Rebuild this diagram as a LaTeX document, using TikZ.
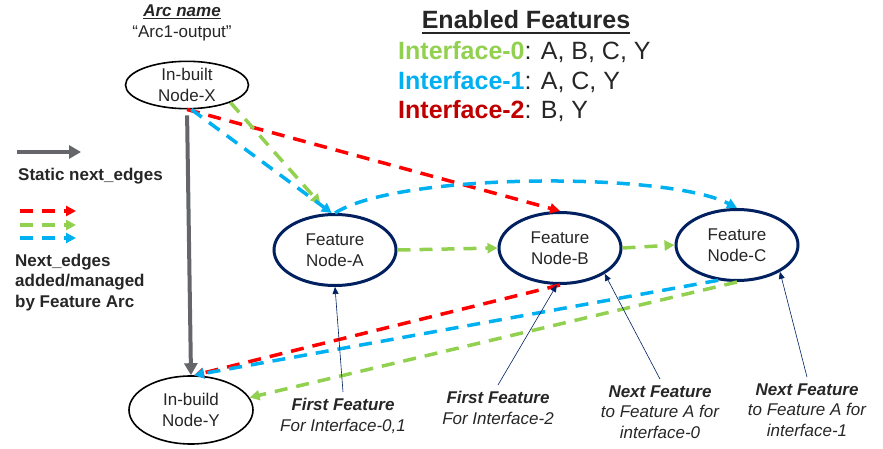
\documentclass[tikz,border=0pt]{standalone}
\usepackage{fontspec}
\setmainfont{Liberation Sans}
\usepackage{xcolor}
\usetikzlibrary{shapes.geometric,arrows.meta}
\definecolor{FRed}{RGB}{255,0,0}
\definecolor{FGreen}{RGB}{146,208,80}
\definecolor{FBlue}{RGB}{0,176,240}
\definecolor{DRed}{RGB}{192,0,0}
\definecolor{Navy}{RGB}{0,32,96}
\definecolor{SGray}{RGB}{100,102,106}
\definecolor{TXT}{RGB}{38,38,38}
\newsavebox\ULbox
\newcommand{\ULtxt}[3]{\sbox\ULbox{#3}\rlap{\rule[-#1]{\wd\ULbox}{#2}}\usebox\ULbox}
\tikzset{
    IN/.style ={ellipse,draw=black,line width=1.6pt,inner sep=0pt,align=center,text=TXT,font=\fontsize{17}{21}\selectfont},
    FN/.style ={ellipse,draw=Navy,line width=3pt,inner sep=0pt,minimum width=122pt,minimum height=71pt,align=center,text=TXT,font=\fontsize{17}{21}\selectfont},
    TX/.style ={inner sep=0pt,text=TXT,font=\fontsize{17}{20.5}\selectfont},
    HD/.style ={inner sep=0pt,text=TXT,font=\fontsize{25}{29}\selectfont},
    AL/.style ={inner sep=6pt,align=center,text=TXT,font=\fontsize{17}{20.5}\selectfont},
    DE/.style ={line width=3.5pt,dash pattern=on 13pt off 9pt,-{Triangle[length=10pt,width=10pt]}},
    ST/.style ={SGray,line width=4pt,-{Triangle[length=12pt,width=13pt]}},
    AN/.style ={Navy,line width=0.6pt,-{Triangle[length=7pt,width=6pt]}}
}
\begin{document}
\begin{tikzpicture}[x=1pt,y=-1pt]
    \path[use as bounding box] (0,0) rectangle (883,449);
    % nodes
    \node[IN,minimum width=123pt,minimum height=47pt] (X) at (187,85) {In-built\\Node-X};
    \node[IN,minimum width=124pt,minimum height=68pt] (Y) at (191,410) {In-build\\Node-Y};
    \node[FN] (A) at (335,250) {Feature\\Node-A};
    \node[FN] (B) at (560,248) {Feature\\Node-B};
    \node[FN] (C) at (737,245) {Feature\\Node-C};
    % arc name and enabled features
    \node[TX,anchor=base] (arc) at (182,17) {\bfseries\itshape\ULtxt{2.5pt}{1.8pt}{Arc name}};
    \node[TX,anchor=base] (arcv) at (182,38) {“Arc1-output”};
    \node[HD,anchor=base] (hdr) at (526,29) {\bfseries\ULtxt{5.2pt}{2.6pt}{Enabled Features}};
    \node[HD,anchor=base west] (if0) at (398,60) {\textcolor{FGreen}{\bfseries Interface-0}: A, B, C, Y};
    \node[HD,anchor=base west] (if1) at (398,90) {\textcolor{FBlue}{\bfseries Interface-1}: A, C, Y};
    \node[HD,anchor=base west] (if2) at (398,119) {\textcolor{DRed}{\bfseries Interface-2}: B, Y};
    % legend
    \coordinate (g0) at (17,152);
    \coordinate (g1) at (81,152);
    \draw[ST] (g0) -- (g1);
    \node[TX,anchor=base west,font=\fontsize{17}{20.5}\selectfont\bfseries] (lst) at (18,181) {Static next\_edges};
    \foreach \c/\y [count=\i] in {FRed/211,FGreen/225,FBlue/238}{
        \coordinate (d\i a) at (20,\y);
        \coordinate (d\i b) at (76,\y);
        \draw[DE,\c] (d\i a) -- (d\i b);}
    \node[TX,anchor=base west,align=left,font=\fontsize{17}{20.5}\selectfont\bfseries] (lne) at (15,307) {Next\_edges\\added/managed\\by Feature Arc};
    % static edge
    \draw[ST,shorten <=6pt] (X.south) -- (Y.north);
    % feature arc edges
    \draw[DE,FRed] (X.south) -- (B.north);
    \draw[DE,FGreen,shorten >=12pt] (X.-22) -- (A.100);
    \draw[DE,FBlue] (X.-80) -- (A.95);
    \draw[DE,FBlue] (A.north) .. controls (400,172) and (668,172) .. (C.north);
    \draw[DE,FGreen] (A.east) -- (B.west);
    \draw[DE,FGreen] (B.east) -- (C.west);
    \draw[DE,FRed] (B.south) -- (Y.85);
    \draw[DE,FBlue] (C.-118) -- (Y.85);
    \draw[DE,FGreen] (C.south) -- (Y.12);
    % annotations
    \node[AL,anchor=base] (L1) at (343,431) {{\bfseries\itshape First Feature}\\{\itshape For Interface-0,1}};
    \node[AL,anchor=base] (L2) at (498,424) {{\bfseries\itshape First Feature}\\{\itshape For Interface-2}};
    \node[AL,anchor=base] (L3) at (660,438) {{\bfseries\itshape Next Feature}\\{\itshape to Feature A for}\\{\itshape interface-0}};
    \node[AL,anchor=base] (L4) at (807,436) {{\bfseries\itshape Next Feature}\\{\itshape to Feature A for}\\{\itshape interface-1}};
    \draw[AN] (L1.north) -- (A.south);
    \draw[AN] (L2.north) -- (B.-95);
    \draw[AN] (L3.north) -- (B.-30);
    \draw[AN] (L4.north) -- (C.-32);
\end{tikzpicture}
\end{document}
